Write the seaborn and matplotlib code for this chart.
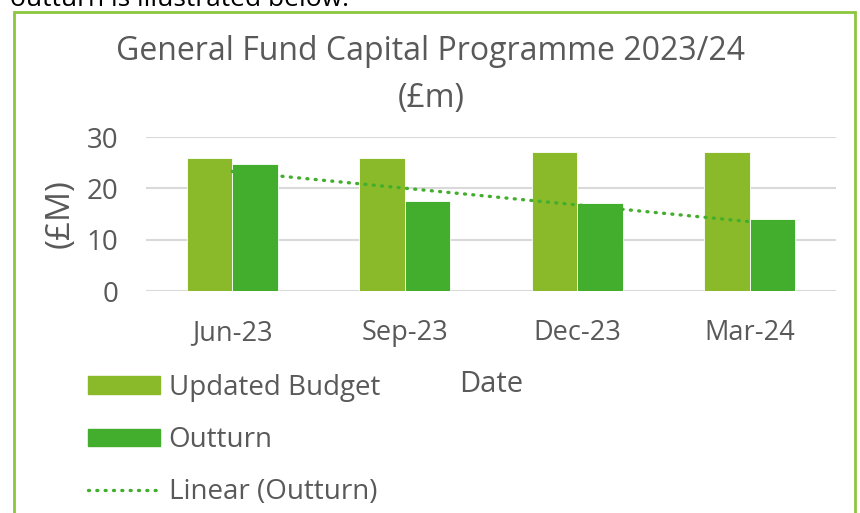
import numpy as np
import pandas as pd
import seaborn as sns
import matplotlib.pyplot as plt
from matplotlib.patches import Rectangle
from matplotlib.lines import Line2D

# chart values
dates = ['Jun-23', 'Sep-23', 'Dec-23', 'Mar-24']
updated_budget = [26.0, 26.0, 27.0, 27.0]
outturn = [24.8, 17.6, 17.1, 14.1]
series_names = ['Updated Budget', 'Outturn']

df = pd.DataFrame({
    'Date': dates * 2,
    'Value': updated_budget + outturn,
    'Series': [series_names[0]] * 4 + [series_names[1]] * 4,
})

sns.set_theme(style="white")
plt.rcParams['font.family'] = ['Open Sans', 'DejaVu Sans']

budget_col = '#8aba29'
outturn_col = '#43ae2d'
text_col = '#595959'

fig = plt.figure(figsize=(8.6, 5.13), dpi=100)
W, H = 860, 513
ax = fig.add_axes([146 / W, 1 - 291 / H, 690 / W, 154 / H])

sns.barplot(data=df, x='Date', y='Value', hue='Series', ax=ax,
            palette=[budget_col, outturn_col], width=0.53, saturation=1,
            edgecolor='white', linewidth=0.6, legend=False)

# linear trendline of outturn
xs = np.arange(len(outturn))
slope, icpt = np.polyfit(xs, outturn, 1)
ax.plot(xs, slope * xs + icpt, color=outturn_col, lw=2.4,
        linestyle=(0, (0.3, 2.2)), dash_capstyle='round', zorder=5)

ax.set_ylim(0, 30)
ax.set_xlim(-0.5, 3.5)
ax.set_yticks([0, 10, 20, 30])
ax.yaxis.grid(True, color='#d9d9d9', lw=1.5)
ax.set_axisbelow(True)
for s in ax.spines.values():
    s.set_visible(False)
ax.tick_params(axis='both', length=0, colors=text_col)
ax.tick_params(axis='y', pad=20, labelsize=20)
ax.tick_params(axis='x', pad=20, labelsize=19.5)
ax.set_xlabel('')
ax.set_ylabel('(£M)', fontsize=24, color=text_col, labelpad=7)

# title
fig.text(431 / W, 1 - 52 / H, 'General Fund Capital Programme 2023/24',
         ha='center', va='center', fontsize=23, color=text_col)
fig.text(431 / W, 1 - 98 / H, '(£m)', ha='center', va='center',
         fontsize=23, color=text_col)

# x axis title
fig.text(491 / W, 1 - 384 / H, 'Date', ha='center', va='center',
         fontsize=21, color=text_col)

# legend
handles = [
    Rectangle((0, 0), 1, 1, color=budget_col),
    Rectangle((0, 0), 1, 1, color=outturn_col),
    Line2D([0], [0], color=outturn_col, lw=2.4, linestyle=(0, (0.3, 2.2)),
           dash_capstyle='round'),
]
fig.legend(handles, series_names + ['Linear (Outturn)'],
           loc='upper left', bbox_to_anchor=(88 / W, 1 - 374 / H),
           borderaxespad=0, borderpad=0,
           frameon=False, fontsize=20, labelcolor=text_col,
           handlelength=2.6, handleheight=0.6, handletextpad=0.3,
           labelspacing=0.87)

# surrounding frame and cut-off body text
fig.patches.append(Rectangle((14 / W, -0.05), (855 - 14) / W, 1.05 - 12 / H,
                             transform=fig.transFigure, fill=False,
                             edgecolor='#8cc63f', lw=2))
fig.text(10 / W, 1 - 6 / H, 'outturn is illustrated below.', ha='left',
         va='baseline', fontsize=19, color='black')

fig.savefig('out.png', dpi=100)
